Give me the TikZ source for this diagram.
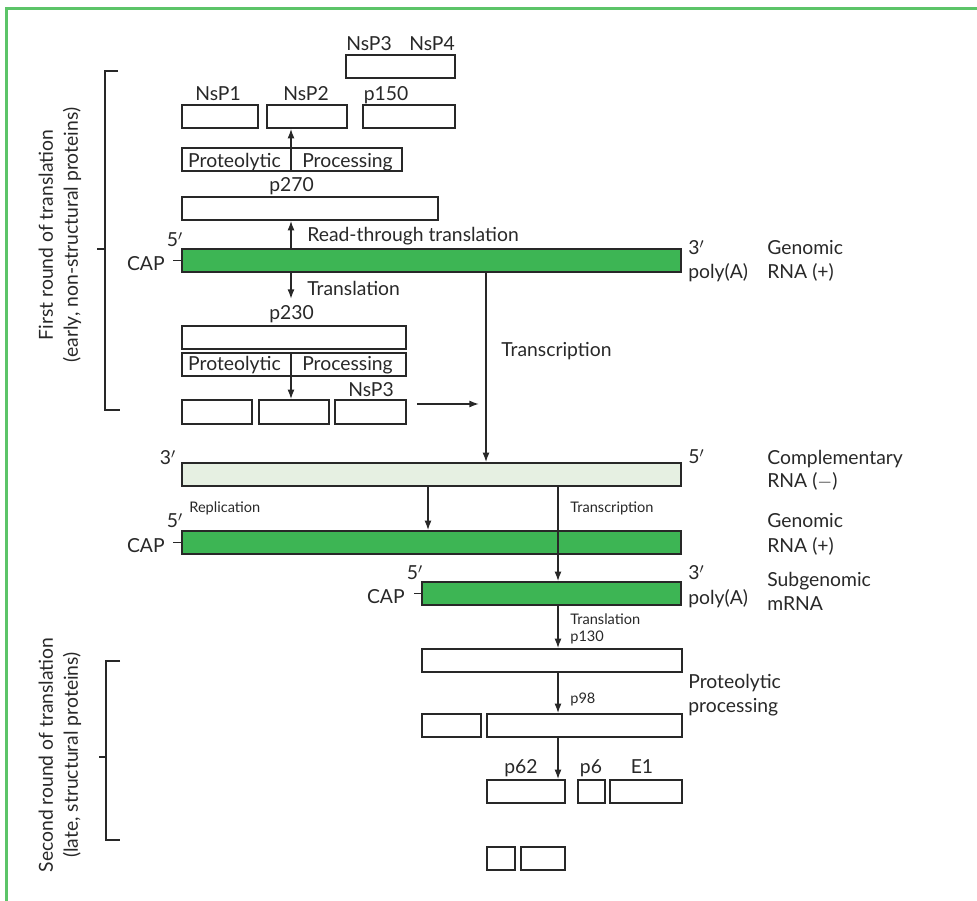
\documentclass[tikz,border=0pt]{standalone}
\usepackage{fontspec}
\setmainfont{Lato}
\usetikzlibrary{arrows.meta,fit}
\definecolor{framegreen}{RGB}{92,196,104}
\definecolor{rnagreen}{RGB}{61,181,84}
\definecolor{rnapale}{RGB}{230,240,226}
\definecolor{ink}{RGB}{40,40,40}
\tikzset{
  prot/.style={draw=ink, line width=0.85pt, inner sep=0pt},
  rnabar/.style={prot, fill=rnagreen},
  lbl/.style={inner sep=0pt, text=ink, font=\fontsize{11}{12.5}\selectfont},
  tinylbl/.style={lbl, font=\fontsize{8.3}{9.5}\selectfont},
  sidelbl/.style={lbl, rotate=90, align=center, font=\fontsize{11}{14.2}\selectfont},
  arr/.style={draw=ink, line width=0.85pt, -{Latex[length=5.5pt,width=4pt]}},
  brace/.style={draw=ink, line width=0.85pt},
}
\newcommand{\protbox}[6][prot]{\node[#1, fit={(#3,#4) (#5,#6)}] (#2) {};}

\begin{document}
\begin{tikzpicture}[x=0.02cm,y=-0.02cm]
  \useasboundingbox (0,0) rectangle (977,901);
  \draw[framegreen, line width=1.5pt] (6.5,901) -- (6.5,8.5) -- (977,8.5);

  % brackets at the left
  \draw[brace] (118,71) -- (105,71) -- (105,410) -- (120,410);
  \draw[brace] (97,249) -- (105,249);
  \node[sidelbl] (first) at (60,235) {First round of translation\\(early, non-structural proteins)};
  \draw[brace] (120,661) -- (106,661) -- (106,840) -- (120,840);
  \draw[brace] (99,757) -- (106,757);
  \node[sidelbl] (second) at (60,755) {Second round of translation\\(late, structural proteins)};

  % early proteins
  \protbox{nsp34}{346}{55}{455}{78}
  \node[lbl, anchor=base] (tNsP3) at (369,51) {NsP3};
  \node[lbl, anchor=base] (tNsP4) at (432,51) {NsP4};
  \protbox{nsp1}{182}{105}{258}{128}
  \protbox{nsp2}{267}{105}{347}{128}
  \protbox{p150}{363}{105}{455}{128}
  \node[lbl, anchor=base] (tNsP1) at (218,101) {NsP1};
  \node[lbl, anchor=base] (tNsP2) at (306,101) {NsP2};
  \node[lbl, anchor=base] (tP150) at (386,101) {p150};
  \protbox{procA}{182}{148}{402}{171}
  \node[lbl, anchor=base] (tProtA) at (234.5,168) {Proteolytic};
  \node[lbl, anchor=base] (tProcA) at (347.5,168) {Processing};
  \protbox{p270}{182}{197}{438}{220}
  \node[lbl, anchor=base] (tP270) at (291.5,192) {p270};

  % genomic RNA
  \protbox[rnabar]{genA}{182}{249}{681}{272}
  \node[lbl, anchor=base] (fiveA) at (175,247) {5$'$};
  \node[lbl, anchor=base east] (capA) at (165,271) {CAP};
  \draw[brace] (genA.west) -- ++(-8,0);
  \node[lbl, anchor=base west] (threeA) at (688,255) {3$'$};
  \node[lbl, anchor=base west] (polyA) at (688,279) {poly(A)};
  \node[lbl, anchor=base west] (genomA) at (767,255) {Genomic};
  \node[lbl, anchor=base west] (rnaA) at (767,279) {RNA (+)};
  \node[lbl, anchor=base west] (tRead) at (307,242) {Read-through translation};
  \node[lbl, anchor=base west] (tTransl) at (307,296) {Translation};

  \protbox{p230}{182}{326}{406}{349}
  \node[lbl, anchor=base] (tP230) at (291.5,320) {p230};
  \protbox{procB}{182}{353}{406}{376}
  \node[lbl, anchor=base] (tProtB) at (234.5,371) {Proteolytic};
  \node[lbl, anchor=base] (tProcB) at (347.5,371) {Processing};
  \protbox{nsA}{182}{400}{252}{424}
  \protbox{nsB}{259}{400}{329}{424}
  \protbox{nsC}{335}{400}{406}{424}
  \node[lbl, anchor=base] (tNsP3b) at (371,397) {NsP3};

  \coordinate (xA) at (291,0);
  \coordinate (xT) at (486,0);
  \coordinate (xR) at (428,0);
  \coordinate (xS) at (558,0);
  \coordinate (trEnd) at (291,299);
  \coordinate (fbEnd) at (479,404);
  \draw[arr] (procA.south -| xA) -- (nsp2.south -| xA);
  \draw[arr] (genA.north -| xA) -- (p270.south -| xA);
  \draw[arr] (genA.south -| xA) -- (trEnd);
  \draw[arr] (procB.north -| xA) -- (nsB.north -| xA);
  \draw[arr] ([shift={(10,-8)}]nsC.east) -- (fbEnd);

  % complementary RNA
  \protbox[prot, fill=rnapale]{compl}{182}{463}{681}{486}
  \draw[arr] (genA.south -| xT) -- (compl.north -| xT);
  \node[lbl, anchor=base west] (tTranscr) at (501,357) {Transcription};
  \node[lbl, anchor=base] (threeB) at (168,465) {3$'$};
  \node[lbl, anchor=base west] (fiveB) at (688,464) {5$'$};
  \node[lbl, anchor=base west] (complB) at (767,465) {Complementary};
  \node[lbl, anchor=base west] (rnaB) at (767,488) {RNA ($-$)};

  % genomic RNA, second copy
  \protbox[rnabar]{genB}{182}{531}{681}{554}
  \node[tinylbl, anchor=base west] (tRepl) at (189,513) {Replication};
  \node[tinylbl, anchor=base west] (tTranscrS) at (570,513) {Transcription};
  \node[lbl, anchor=base] (fiveC) at (175,528) {5$'$};
  \node[lbl, anchor=base east] (capC) at (165,553) {CAP};
  \draw[brace] (genB.west) -- ++(-8,0);
  \node[lbl, anchor=base west] (genomC) at (767,528) {Genomic};
  \node[lbl, anchor=base west] (rnaC) at (767,553) {RNA (+)};

  % subgenomic mRNA
  \protbox[rnabar]{subg}{422}{582}{681}{605}
  \node[lbl, anchor=base] (fiveD) at (415,580) {5$'$};
  \node[lbl, anchor=base east] (capD) at (405,604) {CAP};
  \draw[brace] (subg.west) -- ++(-7,0);
  \node[lbl, anchor=base west] (threeD) at (688,580) {3$'$};
  \node[lbl, anchor=base west] (polyD) at (688,605) {poly(A)};
  \node[lbl, anchor=base west] (subgD) at (767,587) {Subgenomic};
  \node[lbl, anchor=base west] (mrnaD) at (767,611) {mRNA};
  \draw[arr] (compl.south -| xR) -- (genB.north -| xR);
  \draw[arr] (compl.south -| xS) -- (subg.north -| xS);

  % late proteins
  \protbox{p130}{422}{649}{682}{672}
  \protbox{cleavA}{422}{714}{481}{737}
  \protbox{p98}{487}{714}{682}{737}
  \protbox{p62}{487}{780}{565}{803}
  \protbox{p6}{578}{780}{605}{803}
  \protbox{e1}{610}{780}{682}{803}
  \protbox{smA}{487}{847}{515}{870}
  \protbox{smB}{521}{847}{565}{870}
  \node[tinylbl, anchor=base west] (tTranslS) at (570,625) {Translation};
  \node[tinylbl, anchor=base west] (tP130) at (570,642) {p130};
  \node[tinylbl, anchor=base west] (tP98) at (570,704) {p98};
  \node[lbl, anchor=base west] (tProtL) at (688,688) {Proteolytic};
  \node[lbl, anchor=base west] (tProcL) at (688,712) {processing};
  \node[lbl, anchor=base] (tP62) at (521,773) {p62};
  \node[lbl, anchor=base] (tP6) at (591,773) {p6};
  \node[lbl, anchor=base] (tE1) at (642,773) {E1};
  \draw[arr] (subg.south -| xS) -- (p130.north -| xS);
  \draw[arr] (p130.south -| xS) -- (p98.north -| xS);
  \draw[arr] (p98.south -| xS) -- (p62.north -| xS);
\end{tikzpicture}
\end{document}
